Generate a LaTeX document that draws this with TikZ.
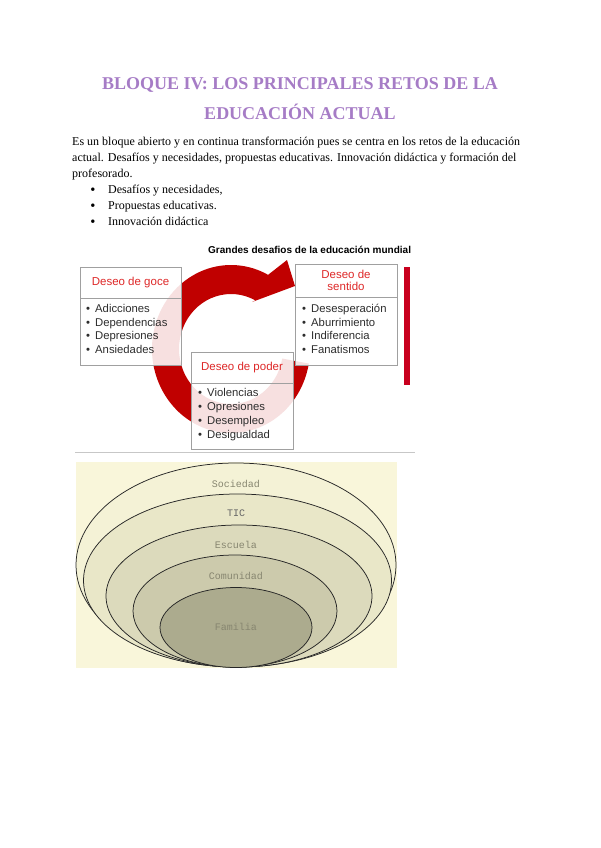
\documentclass[tikz,border=0pt]{standalone}
\usepackage{fontspec}
\setmainfont{Liberation Serif}
\newfontfamily\arialf{Liberation Sans}
\newfontfamily\monof{Liberation Mono}
\usetikzlibrary{calc}
\definecolor{ttlpurple}{RGB}{166,124,198}
\definecolor{ringred}{RGB}{192,0,0}
\definecolor{hdrred}{RGB}{222,40,40}
\definecolor{itemgray}{RGB}{45,45,45}
\definecolor{boxgray}{RGB}{160,160,160}
\definecolor{barred}{RGB}{200,0,30}
\definecolor{bgyellow}{RGB}{249,246,218}
\definecolor{eA}{RGB}{244,242,214}
\definecolor{eB}{RGB}{233,231,200}
\definecolor{eC}{RGB}{220,218,188}
\definecolor{eD}{RGB}{204,202,172}
\definecolor{eE}{RGB}{172,171,142}
\definecolor{lblgray}{RGB}{135,134,112}
\tikzset{
  ttl/.style={anchor=base, inner sep=0, text=ttlpurple, font=\fontsize{18}{20}\selectfont\bfseries},
  para/.style={anchor=base west, inner sep=0, font=\fontsize{12}{13}\selectfont},
  bul/.style={anchor=base, inner sep=0, font=\fontsize{14.5}{14.5}\selectfont},
  hbox/.style={draw=boxgray, fill=white, fill opacity=0.88, text opacity=1, line width=0.9pt, inner sep=0, minimum width=101, text=hdrred, font=\arialf\fontsize{11.5}{12}\selectfont, align=center},
  cbox/.style={draw=boxgray, fill=white, fill opacity=0.88, line width=0.9pt, inner sep=0, minimum width=101},
  itm/.style={anchor=base west, inner sep=0, text=itemgray, font=\arialf\fontsize{11.3}{12}\selectfont},
  ell/.style={draw=black!85, line width=0.75pt},
  lbl/.style={anchor=base, inner sep=0, text=lblgray, font=\monof\fontsize{10}{10}\selectfont}
}
\begin{document}
\begin{tikzpicture}[x=1pt,y=-1pt]
\useasboundingbox (0,0) rectangle (600,848);
\fill[white] (0,0) rectangle (600,848);

% title
\node[ttl] (t1) at (300,90) {BLOQUE IV: LOS PRINCIPALES RETOS DE LA};
\node[ttl] (t2) at (300,120) {EDUCACIÓN ACTUAL};

% paragraph
\node[para] (p1) at (72,145) {Es un bloque abierto y en continua transformación pues se centra en los retos de la educación};
\node[para] (p2) at (72,161.5) {actual. Desafíos y necesidades, propuestas educativas. Innovación didáctica y formación del};
\node[para] (p3) at (72,177) {profesorado.};
\node[bul] (b1) at (93,194) {•};
\node[bul] (b2) at (93,210) {•};
\node[bul] (b3) at (93,226) {•};
\node[para] (l1) at (108,193) {Desafíos y necesidades,};
\node[para] (l2) at (108,209) {Propuestas educativas.};
\node[para] (l3) at (108,225) {Innovación didáctica};

% diagram 1
\node[anchor=base west, inner sep=0, font=\arialf\bfseries\fontsize{10}{10}\selectfont] (dt) at (208,253) {Grandes desafios de la educación mundial};

\begin{scope}[shift={(231,349)}]
  \fill[ringred] (10:79 and 84) arc[start angle=10, end angle=298, x radius=79, y radius=84] -- (56,-89) -- (64,-63) -- (21,-47) -- (298:52 and 55) arc[start angle=298, end angle=10, x radius=52, y radius=55] -- cycle;
\end{scope}

\fill[barred] (403.5,267) rectangle (410,385);
\draw[black!22, line width=0.8pt] (75,452.5) -- (415,452.5);

% boxes
\node[hbox, minimum height=31] (gh) at (130.5,282.5) {Deseo de goce};
\node[cbox, minimum height=67] (gc) at (130.5,331.5) {};
\node[hbox, minimum height=33, minimum width=102, font=\arialf\fontsize{11.5}{11.7}\selectfont] (sh) at (346,280.5) {Deseo de\\sentido};
\node[cbox, minimum height=68, minimum width=102] (sc) at (346,331) {};
\node[hbox, minimum height=31, minimum width=102] (ph) at (242,367.5) {Deseo de poder};
\node[cbox, minimum height=66, minimum width=102] (pc) at (242,416) {};

\foreach \t [count=\i] in {Adicciones,Dependencias,Depresiones,Ansiedades}{
  \node[itm] (gi\i) at (95,{298.2+13.9*\i}) {\t};
  \node[itm, anchor=base] (gb\i) at (88,{298.2+13.9*\i}) {•};
}
\foreach \t [count=\i] in {Desesperación,Aburrimiento,Indiferencia,Fanatismos}{
  \node[itm] (si\i) at (311,{298.2+13.9*\i}) {\t};
  \node[itm, anchor=base] (sb\i) at (304,{298.2+13.9*\i}) {•};
}
\foreach \t [count=\i] in {Violencias,Opresiones,Desempleo,Desigualdad}{
  \node[itm] (pi\i) at (207,{382.9+13.8*\i}) {\t};
  \node[itm, anchor=base] (pb\i) at (200,{382.9+13.8*\i}) {•};
}

% diagram 2
\fill[bgyellow] (76,462) rectangle (397,668);
\draw[ell, fill=eA] (236,565) ellipse [x radius=160, y radius=102];
\draw[ell, fill=eB] (237.5,580.5) ellipse [x radius=154, y radius=86.5];
\draw[ell, fill=eC] (239,596) ellipse [x radius=133, y radius=71];
\draw[ell, fill=eD] (235,611) ellipse [x radius=102, y radius=56];
\draw[ell, fill=eE] (236,627.5) ellipse [x radius=76, y radius=40];
\node[lbl] (ls) at (236,487) {Sociedad};
\node[lbl, text=black!60] (lt) at (236,516.5) {TIC};
\node[lbl] (le) at (236,548) {Escuela};
\node[lbl] (lc) at (236,579) {Comunidad};
\node[lbl] (lf) at (236,630.5) {Familia};
\end{tikzpicture}
\end{document}
